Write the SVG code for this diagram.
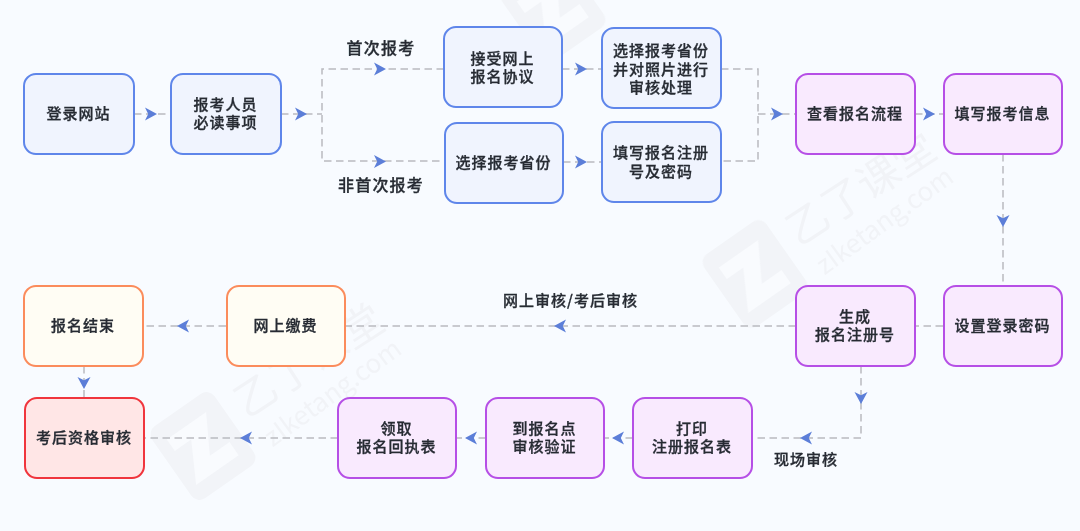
<svg xmlns="http://www.w3.org/2000/svg" width="1080" height="531" viewBox="0 0 1080 531">
<style>
text{font-family:"Noto Sans CJK SC","Noto Sans",sans-serif;font-size:15px;font-weight:500;fill:#262b33;stroke:#262b33;stroke-width:0.3px;text-anchor:middle;letter-spacing:1px}
.n rect{stroke-width:2}
.blue rect{fill:#f0f4fe;stroke:#5f86ea}
.purple rect{fill:#f9eafe;stroke:#b650e6}
.orange rect{fill:#fffdf4;stroke:#fb8c5c}
.red rect{fill:#ffe6e6;stroke:#f0343c}
.c{fill:none;stroke:#b9bbc0;stroke-width:1.5;stroke-dasharray:7.500 4.500}
.big{font-size:16px;letter-spacing:1.200px}
#watermark text{fill:#f1f3f7;stroke:none;font-weight:400;letter-spacing:0}
#watermark .t{font-size:42px}
#watermark .u{font-size:26px}
</style>
<defs>
<path id="a" d="M-6 -6.500 L6 0 L-6 6.500 L-2.800 0Z" fill="#5b7ed8"/>
<g id="logo"><rect x="-38" y="-44" width="76" height="88" rx="10" fill="#f2f4f8"/><path d="M-26-26H22L0 12H24V28H-28L-6-12H-26Z" fill="#f9fbfe"/></g>
<filter id="b" filterUnits="userSpaceOnUse" x="0" y="0" width="1080" height="531"><feGaussianBlur stdDeviation="0.5"/></filter>
</defs>
<rect width="1080" height="531" fill="#f8fbff"/>
<g filter="url(#b)">
<g id="watermark">
<use href="#logo" transform="translate(203 446) rotate(-35)"/>
<use href="#logo" transform="translate(755 274) rotate(-35)"/>
<use href="#logo" transform="translate(553 8) rotate(-35)"/>
<text class="t" transform="translate(317 373) rotate(-33)">乙了课堂</text>
<text class="u" transform="translate(338 400) rotate(-36)">zIketang.com</text>
<text class="t" transform="translate(869 201) rotate(-33)">乙了课堂</text>
<text class="u" transform="translate(890 228) rotate(-36)">zIketang.com</text>
</g>
<g id="connectors">
<path class="c" d="M134 114H170"/>
<path class="c" d="M281 114H322"/>
<path class="c" d="M444 69H322V161H445"/>
<path class="c" d="M562 69H602"/>
<path class="c" d="M563 162H602"/>
<path class="c" d="M721 69H758V161H721"/>
<path class="c" d="M758 114H796"/>
<path class="c" d="M915 114H943"/>
<path class="c" d="M1003 154V285"/>
<path class="c" d="M943 326H915"/>
<path class="c" d="M796 326H345"/>
<path class="c" d="M226 326H143"/>
<path class="c" d="M84 366V398"/>
<path class="c" d="M861 366V438H752"/>
<path class="c" d="M633 438H604"/>
<path class="c" d="M486 438H456"/>
<path class="c" d="M338 438H144"/>
<use href="#a" x="151" y="114"/>
<use href="#a" x="301" y="114"/>
<use href="#a" x="380" y="69"/>
<use href="#a" x="380" y="161.500"/>
<use href="#a" x="581" y="69"/>
<use href="#a" x="581" y="162"/>
<use href="#a" x="777" y="114"/>
<use href="#a" x="929" y="114"/>
<use href="#a" transform="translate(1003 221) rotate(90)"/>
<use href="#a" transform="translate(560 326) rotate(180)"/>
<use href="#a" transform="translate(183 326) rotate(180)"/>
<use href="#a" transform="translate(84 383) rotate(90)"/>
<use href="#a" transform="translate(861 398) rotate(90)"/>
<use href="#a" transform="translate(806 438) rotate(180)"/>
<use href="#a" transform="translate(618 438) rotate(180)"/>
<use href="#a" transform="translate(471 438) rotate(180)"/>
<use href="#a" transform="translate(246 438) rotate(180)"/>
</g>
<g id="labels">
<text class="big" x="381" y="54">首次报考</text>
<text class="big" x="381" y="191">非首次报考</text>
<text x="570.500" y="306">网上审核/考后审核</text>
<text x="806" y="465">现场审核</text>
</g>
<g id="n1" class="n blue"><rect x="24" y="74" width="110" height="80" rx="12"/><text x="78.500" y="119">登录网站</text></g>
<g id="n2" class="n blue"><rect x="171" y="74" width="110" height="80" rx="12"/><text><tspan x="225.500" y="110">报考人员</tspan><tspan x="225.500" y="128">必读事项</tspan></text></g>
<g id="n3" class="n blue"><rect x="444" y="27" width="118" height="80" rx="12"/><text><tspan x="502.500" y="63.500">接受网上</tspan><tspan x="502.500" y="82">报名协议</tspan></text></g>
<g id="n4" class="n blue"><rect x="602" y="28" width="119" height="80" rx="12"/><text><tspan x="661" y="56">选择报考省份</tspan><tspan x="661" y="74.500">并对照片进行</tspan><tspan x="661" y="92.500">审核处理</tspan></text></g>
<g id="n5" class="n blue"><rect x="445" y="123" width="118" height="80" rx="12"/><text x="503.500" y="168">选择报考省份</text></g>
<g id="n6" class="n blue"><rect x="602" y="122" width="119" height="80" rx="12"/><text><tspan x="661" y="158">填写报名注册</tspan><tspan x="661" y="176.500">号及密码</tspan></text></g>
<g id="n7" class="n purple"><rect x="796" y="74" width="119" height="80" rx="12"/><text x="855" y="119">查看报名流程</text></g>
<g id="n8" class="n purple"><rect x="944" y="74" width="118" height="80" rx="12"/><text x="1002.500" y="119">填写报考信息</text></g>
<g id="n9" class="n purple"><rect x="944" y="286" width="118" height="80" rx="12"/><text x="1002.500" y="331">设置登录密码</text></g>
<g id="n10" class="n purple"><rect x="796" y="286" width="119" height="80" rx="12"/><text><tspan x="855" y="322">生成</tspan><tspan x="855" y="340">报名注册号</tspan></text></g>
<g id="n11" class="n orange"><rect x="227" y="286" width="118" height="80" rx="12"/><text x="285.500" y="331">网上缴费</text></g>
<g id="n12" class="n orange"><rect x="24" y="286" width="119" height="80" rx="12"/><text x="83" y="331">报名结束</text></g>
<g id="n13" class="n red"><rect x="25" y="398" width="119" height="80" rx="12"/><text x="84" y="443">考后资格审核</text></g>
<g id="n14" class="n purple"><rect x="338" y="398" width="118" height="80" rx="12"/><text><tspan x="396.500" y="434">领取</tspan><tspan x="396.500" y="452">报名回执表</tspan></text></g>
<g id="n15" class="n purple"><rect x="486" y="398" width="118" height="80" rx="12"/><text><tspan x="544.500" y="434">到报名点</tspan><tspan x="544.500" y="452">审核验证</tspan></text></g>
<g id="n16" class="n purple"><rect x="633" y="398" width="119" height="80" rx="12"/><text><tspan x="692" y="434">打印</tspan><tspan x="692" y="452">注册报名表</tspan></text></g>
</g>
</svg>
